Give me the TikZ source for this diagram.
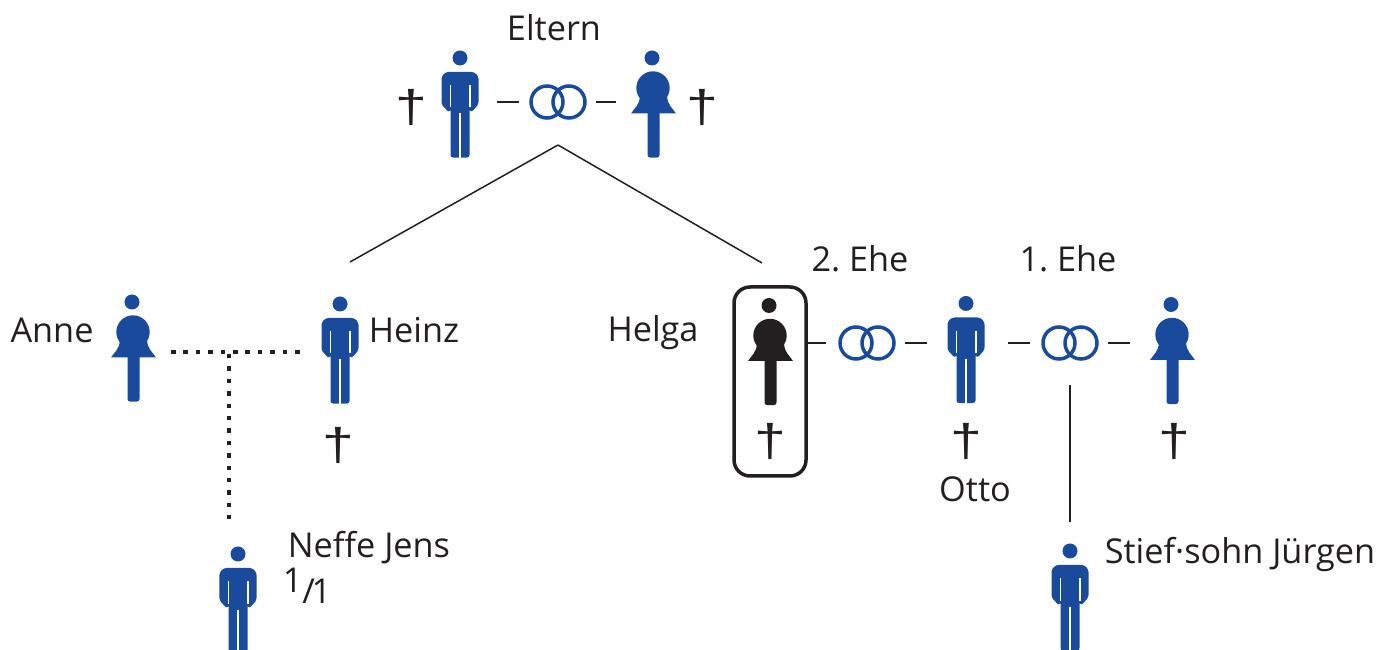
\documentclass[tikz,border=0pt]{standalone}
\usepackage{fontspec}
\setmainfont{Open Sans}
\newfontfamily\kreuzfont{Liberation Sans}
\usepackage{xcolor}
\usetikzlibrary{positioning}
\definecolor{figblau}{HTML}{1A4A9C}
\definecolor{tinte}{HTML}{231F20}

% figures, drawn in pixels around the middle of their node
\newcommand{\mannform}[1]{
    \begin{scope}[shift={(path picture bounding box.center)},x=0.02cm,y=-0.02cm]
        \fill [#1] (0,-45.5) circle (7.5);
        \fill [#1, rounded corners=0.05cm] (-9.5,54) -- (-9.5,5) -- (-11,9) -- (-18.5,1) -- (-18.5,-27) -- (-14,-31.5) -- (14,-31.5) -- (18.5,-27) -- (18.5,1) -- (11,9) -- (9.5,5) -- (9.5,54) -- cycle;
        \draw [white, line width=0.025cm] (0,10) -- (0,54);
        \draw [white, line width=0.025cm] (-9.5,-18) -- (-9.5,4);
        \draw [white, line width=0.025cm] (10,-18) -- (10,4);
    \end{scope}
}
\newcommand{\frauform}[1]{
    \begin{scope}[shift={(path picture bounding box.center)},x=0.02cm,y=-0.02cm]
        \fill [#1] (-1,-45.5) circle (7.5);
        \fill [#1] (0,-15.5) circle (16.7);
        \fill [#1] (-13,-7) .. controls (-14,2) and (-18,4) .. (-22,10) -- (23,10) .. controls (19,4) and (15,2) .. (14,-7) -- cycle;
        \fill [#1, rounded corners=0.05cm] (-5.5,5) -- (-5.5,54) -- (6.5,54) -- (6.5,5) -- cycle;
    \end{scope}
}

\tikzset{
    person/.style={minimum width=1cm, minimum height=2.2cm, inner sep=0pt, outer sep=0pt},
    mann/.style={person, path picture={\mannform{figblau}}},
    frau/.style={person, path picture={\frauform{#1}}},
    frau/.default=figblau,
    ringe/.style={minimum width=1.24cm, minimum height=0.78cm, inner sep=0pt, outer sep=0pt, path picture={
        \begin{scope}[shift={(path picture bounding box.center)}]
            \draw [figblau, line width=0.07cm] (-0.22,0) circle (0.32);
            \draw [figblau, line width=0.07cm] (0.22,0) circle (0.32);
        \end{scope}}},
    schrift/.style={text=tinte, font=\fontsize{19.5pt}{23pt}\selectfont\frenchspacing, inner sep=0pt},
    kreuz/.style={text=tinte, font=\kreuzfont\fontsize{26pt}{30pt}\selectfont, inner sep=0pt},
    strich/.style={draw=tinte, line width=0.03cm},
    punkte/.style={draw=tinte, line width=0.09cm, dash pattern=on 0.09cm off 0.158cm}
}
\newcommand{\kreuzzeichen}{\scalebox{1.25}[1]{†}}

\begin{document}
\begin{tikzpicture}[node distance=2cm]
    \useasboundingbox (0,0) rectangle (27.88,-13);

    % parents
    \node (vater) [mann] at (9.2,-2.07) {};
    \node (ringeEltern) [ringe, right of=vater, xshift=-0.04cm, yshift=0.03cm] {};
    \node (mutter) [frau, right of=ringeEltern, xshift=-0.1cm, yshift=-0.03cm] {};
    \node (eltern) [schrift, above of=ringeEltern, xshift=-0.08cm, yshift=-0.52cm] {Eltern};
    \node (kreuzVater) [kreuz, left of=vater, xshift=1.02cm, yshift=-0.08cm] {\kreuzzeichen};
    \node (kreuzMutter) [kreuz, right of=mutter, xshift=-1.02cm, yshift=-0.08cm] {\kreuzzeichen};

    % children row
    \node (heinz) [mann, below of=vater, xshift=-2.4cm, yshift=-2.92cm] {};
    \node (anne) [frau, left of=heinz, xshift=-2.14cm, yshift=0.04cm] {};
    \node (helga) [frau=tinte, below of=mutter, xshift=2.34cm, yshift=-2.95cm] {};
    \node (helgaRahmen) [draw=tinte, line width=0.07cm, rounded corners=0.32cm, minimum width=1.44cm, minimum height=3.78cm, inner sep=0pt, outer sep=0pt, below of=helga, yshift=1.39cm] {};
    \node (ringeZwei) [ringe, right of=helgaRahmen, xshift=-0.06cm, yshift=0.77cm] {};
    \node (otto) [mann, right of=ringeZwei, xshift=-0.02cm, yshift=-0.12cm] {};
    \node (ringeEins) [ringe, right of=otto, xshift=0.08cm, yshift=0.12cm] {};
    \node (ersteFrau) [frau, right of=ringeEins, xshift=0.04cm, yshift=-0.14cm] {};

    \node (nameAnne) [schrift, left of=anne, xshift=0.38cm, yshift=0.35cm] {Anne};
    \node (nameHeinz) [schrift, right of=heinz, xshift=-0.52cm, yshift=0.39cm] {Heinz};
    \node (nameHelga) [schrift, left of=helga, xshift=-0.34cm, yshift=0.36cm] {Helga};
    \node (eheZwei) [schrift, above of=ringeZwei, xshift=-0.14cm, yshift=-0.32cm] {2. Ehe};
    \node (eheEins) [schrift, above of=ringeEins, xshift=-0.04cm, yshift=-0.32cm] {1. Ehe};
    \node (kreuzHeinz) [kreuz, below of=heinz, xshift=-0.04cm, yshift=0.08cm] {\kreuzzeichen};
    \node (kreuzHelga) [kreuz, below of=helga, yshift=0.2cm] {\kreuzzeichen};
    \node (kreuzOtto) [kreuz, below of=otto, yshift=0.16cm] {\kreuzzeichen};
    \node (kreuzErsteFrau) [kreuz, below of=ersteFrau, xshift=0.04cm, yshift=0.18cm] {\kreuzzeichen};
    \node (nameOtto) [schrift, below of=kreuzOtto, xshift=0.18cm, yshift=1.04cm] {Otto};

    % lower row
    \node (teilung) [coordinate, right of=anne, xshift=-0.08cm, yshift=-0.09cm] {};
    \node (neffe) [mann, below of=teilung, xshift=0.18cm, yshift=-2.95cm] {};
    \node (stiefsohn) [mann, below of=ringeEins, yshift=-3.07cm] {};
    \node (nameNeffe) [schrift, right of=neffe, xshift=0.62cm, yshift=1.03cm] {Neffe Jens};
    \node (anteil) [schrift, right of=neffe, xshift=-0.62cm, yshift=0.28cm] {\raisebox{0.22cm}{1}/\kern-2pt 1};
    \node (nameStiefsohn) [schrift, right of=stiefsohn, xshift=1.4cm, yshift=0.84cm] {Stief·sohn Jürgen};

    \node (abzweig) [coordinate, below of=ringeEltern, yshift=1.14cm] {};
    \node (endeHeinz) [coordinate, below of=abzweig, xshift=-4.16cm, yshift=-0.34cm] {};
    \node (endeHelga) [coordinate, below of=abzweig, xshift=4.08cm, yshift=-0.36cm] {};

    \draw [strich] (abzweig) -- (endeHeinz);
    \draw [strich] (abzweig) -- (endeHelga);
    \draw [strich, shorten <=0.24cm, shorten >=0.16cm] (vater.east |- ringeEltern) -- (ringeEltern.west);
    \draw [strich, shorten <=0.14cm, shorten >=0.24cm] (ringeEltern.east) -- (mutter.west |- ringeEltern);
    \draw [strich, shorten >=0.2cm] (helgaRahmen.east |- ringeZwei) -- (ringeZwei.west);
    \draw [strich, shorten <=0.14cm, shorten >=0.28cm] (ringeZwei.east) -- (otto.west |- ringeZwei);
    \draw [strich, shorten <=0.34cm, shorten >=0.18cm] (otto.east |- ringeEins) -- (ringeEins.west);
    \draw [strich, shorten <=0.14cm, shorten >=0.34cm] (ringeEins.east) -- (ersteFrau.west |- ringeEins);
    \draw [strich, shorten <=0.45cm, shorten >=0.39cm] (ringeEins.south) -- (stiefsohn.north);

    \draw [punkte, shorten <=0.26cm, shorten >=0.22cm] (anne.east |- teilung) -- (heinz.west |- teilung);
    \draw [punkte, shorten <=0.04cm, shorten >=0.5cm] (teilung) -- (teilung |- neffe.north);
\end{tikzpicture}
\end{document}
